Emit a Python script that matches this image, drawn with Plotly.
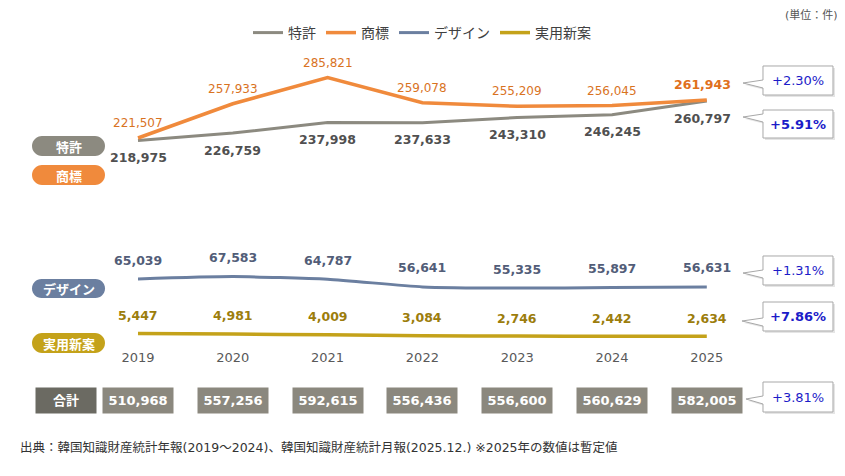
import plotly.graph_objects as go

# 出願件数 (単位: 件)
years = [2019, 2020, 2021, 2022, 2023, 2024, 2025]
patent = [218975, 226759, 237998, 237633, 243310, 246245, 260797]
trademark = [221507, 257933, 285821, 259078, 255209, 256045, 261943]
design = [65039, 67583, 64787, 56641, 55335, 55897, 56631]
utility = [5447, 4981, 4009, 3084, 2746, 2442, 2634]
totals = [510968, 557256, 592615, 556436, 556600, 560629, 582005]

# 前年比
growth_trademark = "+2.30%"
growth_patent = "+5.91%"
growth_design = "+1.31%"
growth_utility = "+7.86%"
growth_total = "+3.81%"

W, H = 845, 476   # browser window
OFF = 8           # page body margin
FW, FH = W - OFF, H - OFF
FONT = "DejaVu Sans, Noto Sans CJK JP"

C_PATENT = "#8c8a80"
C_TM = "#f08a3c"
C_DESIGN = "#6b7fa0"
C_UTIL = "#c4a21a"


# window pixel -> paper fraction
def px(x):
    return (x - OFF) / FW


def py(y):
    return 1 - (y - OFF) / FH


def pt(x, y):
    return f"{px(x):.5f},{py(y):.5f}"


# broken axis: same px-per-unit scale on all three bands
K = 0.00094  # px per 件


def band(v_ref, px_ref, top, bot):
    dom = [py(bot), py(top)]
    rng = [v_ref - (bot - px_ref) / K, v_ref + (px_ref - top) / K]
    return dom, rng


dom1, rng1 = band(trademark[0], 138, 50, 170)
dom2, rng2 = band(design[0], 279, 255, 300)
dom3, rng3 = band(utility[0], 333.5, 320, 345)

step = 94.8
x_lo = years[0] - (138 - OFF) / step
x_hi = x_lo + FW / step

fig = go.Figure()
fig.add_trace(go.Scatter(x=years, y=patent, name="特許", mode="lines",
                         line=dict(color=C_PATENT, width=3), yaxis="y"))
fig.add_trace(go.Scatter(x=years, y=trademark, name="商標", mode="lines",
                         line=dict(color=C_TM, width=3.5), yaxis="y"))
fig.add_trace(go.Scatter(x=years, y=design, name="デザイン", mode="lines",
                         line=dict(color=C_DESIGN, width=3, shape="spline", smoothing=0.6),
                         yaxis="y2"))
fig.add_trace(go.Scatter(x=years, y=utility, name="実用新案", mode="lines",
                         line=dict(color=C_UTIL, width=3.5, shape="spline", smoothing=0.6),
                         yaxis="y3"))

ann = []
shapes = []

# data labels
for i, yr in enumerate(years):
    last = i == len(years) - 1
    ann.append(dict(x=yr, y=trademark[i], yref="y", yshift=15, xshift=-4 if last else 0,
                    text=(f"<b>{trademark[i]:,}</b>" if last else f"{trademark[i]:,}"),
                    font=dict(size=12.5 if last else 12, color="#e0701c" if last else "#d9731f")))
    ann.append(dict(x=yr, y=patent[i], yref="y", yshift=-17, xshift=-4 if last else 0,
                    text=f"<b>{patent[i]:,}</b>", font=dict(size=12.5, color="#505050")))
    ann.append(dict(x=yr, y=design[i], yref="y2", yshift=19,
                    text=f"<b>{design[i]:,}</b>", font=dict(size=12.5, color="#525d78")))
    ann.append(dict(x=yr, y=utility[i], yref="y3", yshift=18,
                    text=f"<b>{utility[i]:,}</b>", font=dict(size=12.5, color="#9c7d0c")))
    ann.append(dict(x=yr, y=py(400), yref="paper", text=f"<b>{totals[i]:,}</b>",
                    bgcolor="#8b887e", width=70, height=25, borderpad=0,
                    font=dict(size=13, color="white")))
for a in ann:
    a.setdefault("xref", "x")

# 合計 box
ann.append(dict(x=px(66), y=py(400), xref="paper", yref="paper",
                text="<b>合計</b>", bgcolor="#6b6a62", width=60, height=25, borderpad=0,
                font=dict(size=13, color="white")))


# series pills on the left
def pill(x0, y0, x1, y1, color, label):
    r = (y1 - y0) / 2
    k = 0.552 * r
    path = (f"M {pt(x0 + r, y0)} L {pt(x1 - r, y0)} "
            f"C {pt(x1 - r + k, y0)} {pt(x1, y0 + r - k)} {pt(x1, y0 + r)} "
            f"C {pt(x1, y1 - r + k)} {pt(x1 - r + k, y1)} {pt(x1 - r, y1)} "
            f"L {pt(x0 + r, y1)} "
            f"C {pt(x0 + r - k, y1)} {pt(x0, y1 - r + k)} {pt(x0, y1 - r)} "
            f"C {pt(x0, y0 + r - k)} {pt(x0 + r - k, y0)} {pt(x0 + r, y0)} Z")
    shapes.append(dict(type="path", path=path, xref="paper", yref="paper",
                       fillcolor=color, line=dict(width=0)))
    ann.append(dict(x=px((x0 + x1) / 2), y=py((y0 + y1) / 2), xref="paper", yref="paper",
                    text=f"<b>{label}</b>",
                    font=dict(size=13, color="white", family="Noto Sans CJK JP")))


pill(32, 136, 105, 156, C_PATENT, "特許")
pill(32, 165, 105, 185, C_TM, "商標")
pill(32, 279, 105, 298, C_DESIGN, "デザイン")
pill(32, 333, 105, 353, C_UTIL, "実用新案")


# growth callouts on the right
def callout(y0, y1, tipx, tipy, text, bold):
    x0, x1 = 763, 833
    b1, b2 = max(tipy - 3, y0 + 2), min(tipy + 5, y1 - 2)

    def path(dx, dy):
        return (f"M {pt(x0 + dx, y0 + dy)} L {pt(x1 + dx, y0 + dy)} L {pt(x1 + dx, y1 + dy)} "
                f"L {pt(x0 + dx, y1 + dy)} L {pt(x0 + dx, b2 + dy)} L {pt(tipx + dx, tipy + dy)} "
                f"L {pt(x0 + dx, b1 + dy)} Z")
    shapes.append(dict(type="path", path=path(2, 2), xref="paper", yref="paper",
                       fillcolor="rgba(0,0,0,0.10)", line=dict(width=0)))
    shapes.append(dict(type="path", path=path(0, 0), xref="paper", yref="paper",
                       fillcolor="white", line=dict(color="#a8a8a8", width=1)))
    ann.append(dict(x=px((x0 + x1) / 2), y=py((y0 + y1) / 2), xref="paper", yref="paper",
                    text=f"<b>{text}</b>" if bold else text,
                    font=dict(size=13, color="#1c1cc8")))


callout(66, 95, 743, 83, growth_trademark, False)
callout(110, 138, 743, 117, growth_patent, True)
callout(256, 285, 743, 273, growth_design, False)
callout(302, 331, 742, 321, growth_utility, True)
callout(382, 412, 746, 399, growth_total, False)

# unit and source
ann.append(dict(x=px(840), y=py(15), xref="paper", yref="paper",
                xanchor="right", text="(単位：件)", font=dict(size=11, color="#555555")))
ann.append(dict(x=px(18), y=py(447), xref="paper", yref="paper",
                xanchor="left",
                text="出典：韓国知識財産統計年報(2019～2024)、韓国知識財産統計月報(2025.12.) ※2025年の数値は暫定値",
                font=dict(size=12.5, color="#333333")))

for a in ann:
    a.setdefault("showarrow", False)
    a.setdefault("xanchor", "center")
    a.setdefault("yanchor", "middle")

fig.update_layout(
    width=FW, height=FH,
    margin=dict(l=0, r=0, t=0, b=0),
    paper_bgcolor="white", plot_bgcolor="white",
    font=dict(family=FONT, color="#333333"),
    showlegend=True,
    legend=dict(orientation="h", x=px(422), xanchor="center", y=py(33), yanchor="middle",
                font=dict(size=14, color="#404040", family="Noto Sans CJK JP"),
                itemwidth=30, bgcolor="rgba(0,0,0,0)"),
    xaxis=dict(range=[x_lo, x_hi], domain=[0, 1], anchor="y3",
               tickvals=years, ticktext=[str(y) for y in years],
               showgrid=False, zeroline=False, showline=False, ticks="",
               ticklabelstandoff=3,
               tickfont=dict(size=13, color="#595959")),
    yaxis=dict(domain=dom1, range=rng1, visible=False),
    yaxis2=dict(domain=dom2, range=rng2, visible=False),
    yaxis3=dict(domain=dom3, range=rng3, visible=False),
    annotations=ann,
    shapes=shapes,
)

fig.write_html("out.html")
